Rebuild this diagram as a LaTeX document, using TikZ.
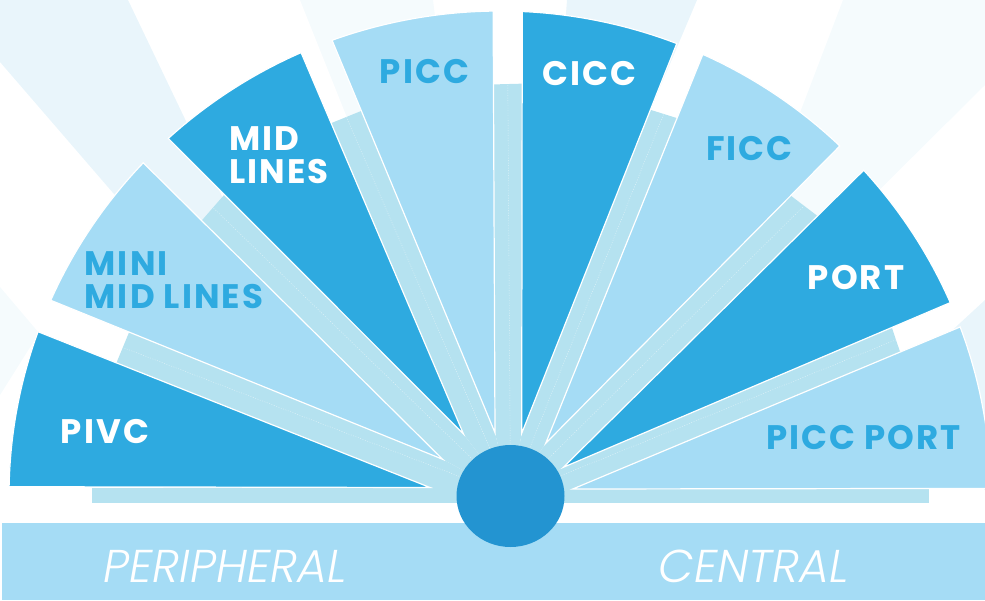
\documentclass[tikz,border=0pt]{standalone}
\usepackage{fontspec}
\usetikzlibrary{calc}
\newfontfamily\labelfont{Poppins Bold}[LetterSpace=6]
\newfontfamily\sidefont{Poppins Light Italic}
\definecolor{darkblue}{HTML}{2EAAE0}
\definecolor{lightblue}{HTML}{A5DCF5}
\definecolor{barblue}{HTML}{B5E2F0}
\definecolor{hubblue}{HTML}{2394D1}
\definecolor{raypale}{HTML}{E9F5FB}
\definecolor{rayfaint}{HTML}{F5FBFD}
\begin{document}
\begin{tikzpicture}[x=1pt,y=-1pt,
    dark/.style={fill=darkblue,draw=white,line width=1.2pt},
    light/.style={fill=lightblue,draw=white,line width=1.2pt},
    bar/.style={fill=barblue},
    seam/.style={draw=white,opacity=.6,line width=.4pt,dash pattern=on 1pt off 1.5pt},
    darklabel/.style={text=white,inner sep=0pt,font=\labelfont\fontsize{34}{33}\selectfont},
    lightlabel/.style={text=darkblue,inner sep=0pt,font=\labelfont\fontsize{34}{33}\selectfont},
    side/.style={text=white,inner sep=0pt,font=\sidefont\fontsize{46}{46}\selectfont}]
    \useasboundingbox (0,0) rectangle (985,600);

    \fill[raypale] (0,62) -- (0,0) -- (128,0) -- (354,472) -- cycle;
    \fill[raypale] (567,0) -- (697,0) -- (570,300) -- (545,300) -- cycle;
    \fill[raypale] (985,300) -- (985,490) -- (880,397) -- cycle;
    \fill[rayfaint] (300,0) -- (433,0) -- (470,300) -- (420,300) -- cycle;
    \fill[rayfaint] (843,0) -- (985,0) -- (985,85) -- (704,364) -- cycle;
    \fill[rayfaint] (0,287) -- (39,333) -- (0,395) -- cycle;

    \coordinate (O) at (500,496);
    \coordinate (hub) at (510.5,496);

    \coordinate (tip1) at (430,487.5);
    \coordinate (tip2) at (442.7,459.3);
    \coordinate (tip3) at (463.5,434);
    \coordinate (tip4) at (495,432.7);
    \coordinate (tip5) at (521.7,433.3);
    \coordinate (tip6) at (545.7,443.3);
    \coordinate (tip7) at (563.3,467.3);
    \coordinate (tip8) at (572.7,489);

    \coordinate (rim1a) at ([shift={(-178.9:491 and 485)}]O);
    \coordinate (rim1b) at ([shift={(-160.2:491 and 485)}]O);
    \coordinate (rim2a) at ([shift={(-156.2:491 and 485)}]O);
    \coordinate (rim2b) at ([shift={(-136.6:491 and 485)}]O);
    \coordinate (rim3a) at ([shift={(-132.5:491 and 485)}]O);
    \coordinate (rim3b) at ([shift={(-113.9:491 and 485)}]O);
    \coordinate (rim4a) at ([shift={(-110:491 and 485)}]O);
    \coordinate (rim4b) at ([shift={(-90.8:491 and 485)}]O);
    \coordinate (rim5a) at ([shift={(-87.4:491 and 485)}]O);
    \coordinate (rim5b) at ([shift={(-68.9:491 and 485)}]O);
    \coordinate (rim6a) at ([shift={(-65.6:491 and 485)}]O);
    \coordinate (rim6b) at ([shift={(-46.2:491 and 485)}]O);
    \coordinate (rim7a) at ([shift={(-42.2:491 and 485)}]O);
    \coordinate (rim7b) at ([shift={(-23.5:491 and 485)}]O);
    \coordinate (rim8a) at ([shift={(-20.4:491 and 485)}]O);
    \coordinate (rim8b) at ([shift={(-0.9:491 and 485)}]O);

    \coordinate (b1a) at ($(tip1)!.80!(rim1b)$);
    \coordinate (b1b) at ($(tip2)!.80!(rim2a)$);
    \coordinate (b2a) at ($(tip2)!.805!(rim2b)$);
    \coordinate (b2b) at ($(tip3)!.81!(rim3a)$);
    \coordinate (b3a) at ($(tip3)!.815!(rim3b)$);
    \coordinate (b3b) at ($(tip4)!.82!(rim4a)$);
    \coordinate (b4a) at ($(tip4)!.826!(rim4b)$);
    \coordinate (b4b) at ($(tip5)!.829!(rim5a)$);
    \coordinate (b5a) at ($(tip5)!.83!(rim5b)$);
    \coordinate (b5b) at ($(tip6)!.836!(rim6a)$);
    \coordinate (b6a) at ($(tip6)!.833!(rim6b)$);
    \coordinate (b6b) at ($(tip7)!.846!(rim7a)$);
    \coordinate (b7a) at ($(tip7)!.849!(rim7b)$);
    \coordinate (b7b) at ($(tip8)!.845!(rim8a)$);

    \fill[bar] (92,488) rectangle (929,503);
    \fill[bar] (hub) -- (tip1) -- (b1a) -- (b1b) -- (tip2) -- cycle;
    \fill[bar] (hub) -- (tip2) -- (b2a) -- (b2b) -- (tip3) -- cycle;
    \fill[bar] (hub) -- (tip3) -- (b3a) -- (b3b) -- (tip4) -- cycle;
    \fill[bar] (hub) -- (tip4) -- (b4a) -- (b4b) -- (tip5) -- cycle;
    \fill[bar] (hub) -- (tip5) -- (b5a) -- (b5b) -- (tip6) -- cycle;
    \fill[bar] (hub) -- (tip6) -- (b6a) -- (b6b) -- (tip7) -- cycle;
    \fill[bar] (hub) -- (tip7) -- (b7a) -- (b7b) -- (tip8) -- cycle;
    \draw[seam] (hub) -- ($(b1a)!.5!(b1b)$);
    \draw[seam] (hub) -- ($(b2a)!.5!(b2b)$);
    \draw[seam] (hub) -- ($(b3a)!.5!(b3b)$);
    \draw[seam] (hub) -- ($(b4a)!.5!(b4b)$);
    \draw[seam] (hub) -- ($(b5a)!.5!(b5b)$);
    \draw[seam] (hub) -- ($(b6a)!.5!(b6b)$);
    \draw[seam] (hub) -- ($(b7a)!.5!(b7b)$);

    \filldraw[dark] (tip1) -- (rim1a) arc[start angle=-178.9,end angle=-160.2,x radius=491,y radius=485] -- cycle;
    \filldraw[light] (tip2) -- (rim2a) arc[start angle=-156.2,end angle=-136.6,x radius=491,y radius=485] -- cycle;
    \filldraw[dark] (tip3) -- (rim3a) arc[start angle=-132.5,end angle=-113.9,x radius=491,y radius=485] -- cycle;
    \filldraw[light] (tip4) -- (rim4a) arc[start angle=-110,end angle=-90.8,x radius=491,y radius=485] -- cycle;
    \filldraw[dark] (tip5) -- (rim5a) arc[start angle=-87.4,end angle=-68.9,x radius=491,y radius=485] -- cycle;
    \filldraw[light] (tip6) -- (rim6a) arc[start angle=-65.6,end angle=-46.2,x radius=491,y radius=485] -- cycle;
    \filldraw[dark] (tip7) -- (rim7a) arc[start angle=-42.2,end angle=-23.5,x radius=491,y radius=485] -- cycle;
    \filldraw[light] (tip8) -- (rim8a) arc[start angle=-20.4,end angle=-0.9,x radius=491,y radius=485] -- cycle;

    \fill[lightblue] (2,523) rectangle (985,600);
    \fill[hubblue] (hub) ellipse[x radius=54,y radius=51];

    \node[darklabel] (pivc) at (105,431.2) {PIVC};
    \node[lightlabel,anchor=north west,align=left] (mini) at (84.5,251.7) {MINI\\MID LINES};
    \node[darklabel,anchor=north west,align=left] (mid) at (229,126) {MID\\LINES};
    \node[lightlabel] (picc) at (424.5,71.5) {PICC};
    \node[darklabel] (cicc) at (589,74) {CICC};
    \node[lightlabel] (ficc) at (749.5,149) {FICC};
    \node[darklabel] (port) at (856,278) {PORT};
    \node[lightlabel] (piccport) at (863.5,437.5) {PICC PORT};
    \node[side] (peripheral) at (225.5,566.7) {PERIPHERAL};
    \node[side] (central) at (754,566.7) {CENTRAL};
\end{tikzpicture}
\end{document}
